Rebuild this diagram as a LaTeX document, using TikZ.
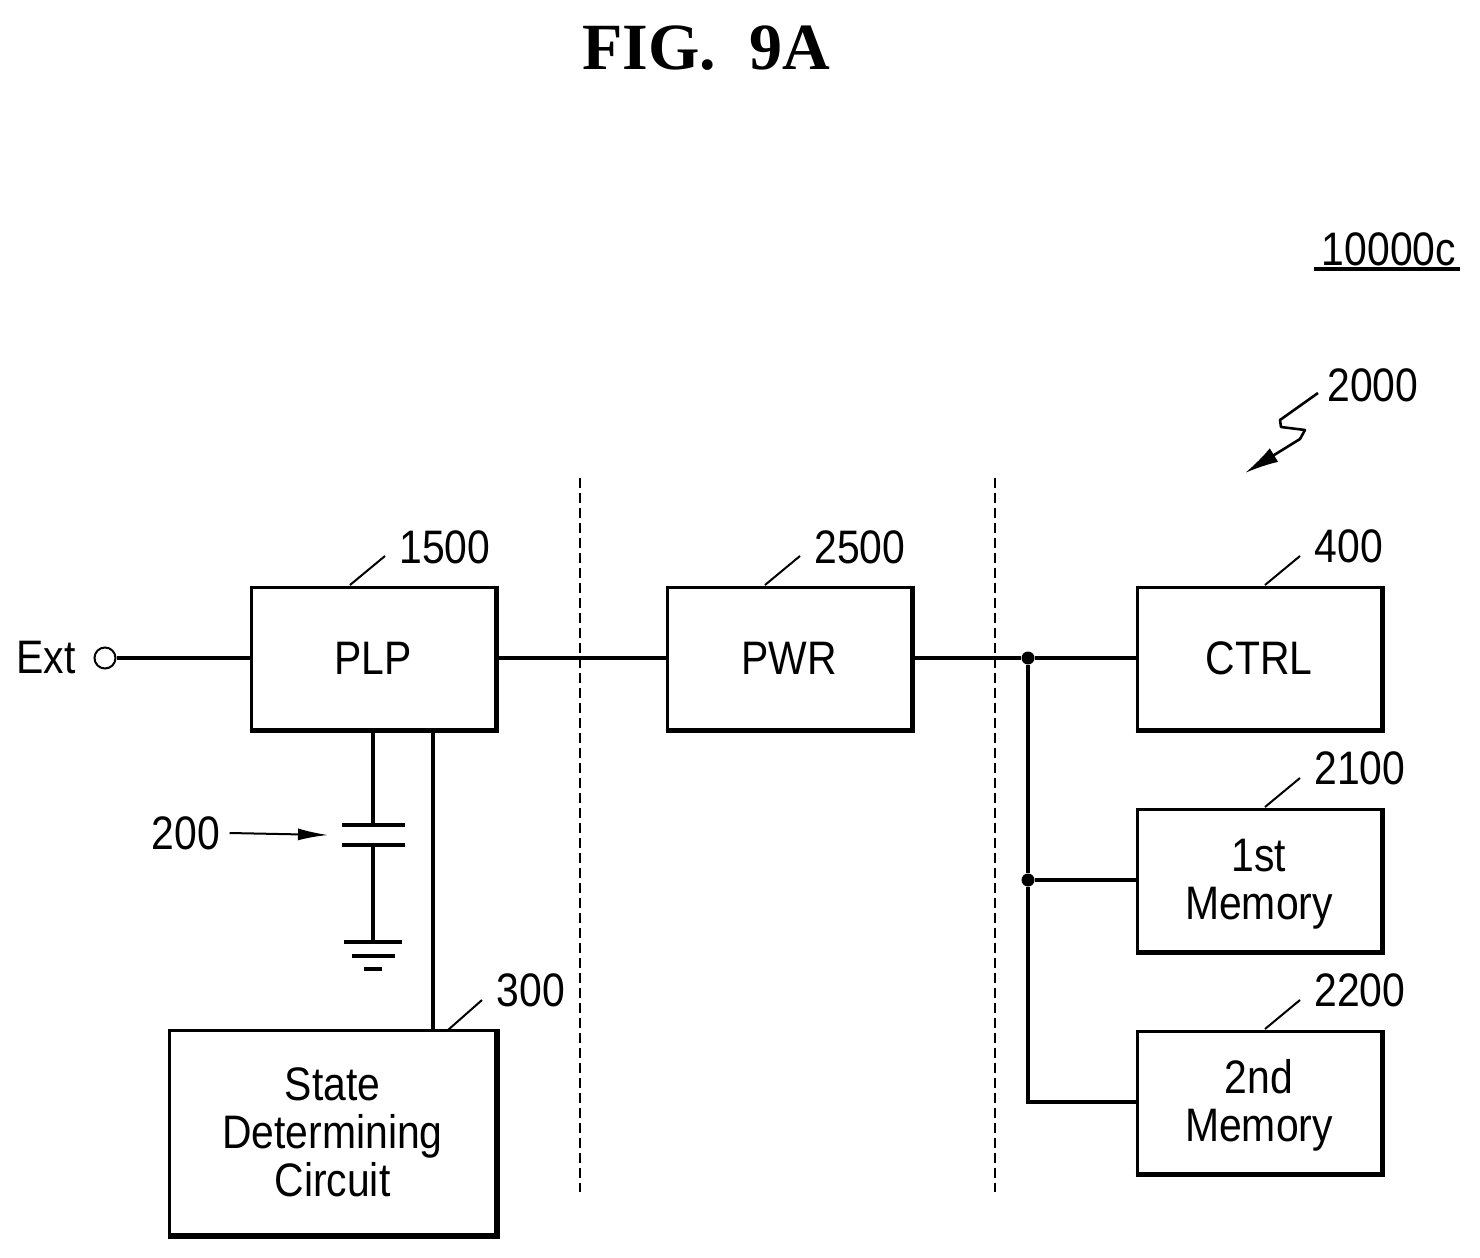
\documentclass[tikz,border=0pt]{standalone}
\usepackage{fontspec}
\setmainfont[FakeStretch=0.87]{Liberation Sans}
\newfontfamily\figfont{Liberation Serif}
\usetikzlibrary{arrows.meta}

\tikzset{
	block/.style={draw,line width=1.5pt,minimum width=122pt,minimum height=71pt,inner sep=0pt,align=center,font=\fontsize{23.5}{24}\selectfont},
	tag/.style={inner sep=0pt,font=\fontsize{23.5}{24}\selectfont},
	wire/.style={line width=1.7pt},
	leader/.style={line width=1pt},
	split/.style={line width=0.8pt,dash pattern=on 5pt off 2.5pt},
	joint/.style={circle,fill,inner sep=0pt,minimum size=6.5pt}
}

\begin{document}
\begin{tikzpicture}[x=0.5pt,y=-0.5pt]

	\useasboundingbox[fill=white] (0,0) rectangle (1480,1258);

	\node[inner sep=0pt,font=\fontsize{33}{33}\bfseries\figfont] (title) at (706,48) {FIG.\hspace{0.5em}9A};
	\node[tag] (system) at (1389,249) {10000c};
	\draw[wire] (1314,269) -- (1460,269);

	% blocks
	\node[block] (plp) at (373,658) {PLP};
	\node[block] (pwr) at (789,658) {PWR};
	\node[block] (ctrl) at (1259,658) {CTRL};
	\node[block] (mem1) at (1259,880) {\rule{0pt}{20pt}1st\\[0pt]Memory};
	\node[block] (mem2) at (1259,1102) {\rule{0pt}{20pt}2nd\\[0pt]Memory};
	\node[block,minimum width=163pt,minimum height=102pt] (state) at (332.5,1132.5) {State\\[0pt]Determining\\[0pt]Circuit};

	\foreach \n in {plp,pwr,ctrl,mem1,mem2,state}
		\draw[line width=2.5pt] (\n.south west) -- (\n.south east) -- (\n.north east);

	% dashed separators
	\coordinate (sepa) at (580,478);
	\coordinate (sepb) at (580,1192);
	\coordinate (sepc) at (995,478);
	\coordinate (sepd) at (995,1192);
	\draw[split] (sepa) -- (sepb);
	\draw[split] (sepc) -- (sepd);

	% input
	\node[tag] (ext) at (46,658) {Ext};
	\node[draw,circle,line width=1pt,minimum size=10.5pt,inner sep=0pt] (port) at (105,658) {};
	\draw[wire] (port) -- (plp);
	\draw[wire] (plp) -- (pwr);

	% supply rail
	\node[joint] (ja) at (1028,658) {};
	\node[joint] (jb) at (1028,880) {};
	\draw[wire] (pwr) -- (ja) -- (ctrl);
	\draw[wire] (ja) -- (jb) -- (mem1);
	\draw[wire] (jb) |- (mem2);

	% capacitor and ground
	\coordinate (capa) at (373,825);
	\coordinate (capb) at (373,845);
	\coordinate (gnda) at (373,942);
	\coordinate (gndb) at (373,956);
	\coordinate (gndc) at (373,969);
	\draw[wire] (capa) -- (plp.south);
	\draw[wire] (capb) -- (gnda);
	\draw[wire] ([xshift=-15.5pt]capa) -- ([xshift=16pt]capa);
	\draw[wire] ([xshift=-15.5pt]capb) -- ([xshift=16pt]capb);
	\draw[wire] ([xshift=-14.5pt]gnda) -- ([xshift=14.5pt]gnda);
	\draw[wire] ([xshift=-10.5pt]gndb) -- ([xshift=11pt]gndb);
	\draw[wire] ([xshift=-4.5pt]gndc) -- ([xshift=4.5pt]gndc);

	% state line
	\coordinate (statein) at (433,1031);
	\coordinate (plpout) at (433,729);
	\draw[wire] (plpout) -- (statein);

	% reference numerals
	\node[tag] (n1500) at (445,547) {1500};
	\node[tag] (n2500) at (860,547) {2500};
	\node[tag] (n400) at (1349,546) {400};
	\node[tag] (n2100) at (1360,768) {2100};
	\node[tag] (n2200) at (1360,990) {2200};
	\node[tag] (n300) at (531,990) {300};
	\node[tag] (n200) at (186,833) {200};
	\node[tag] (n2000) at (1373,385) {2000};

	\coordinate (la) at (350,585);
	\coordinate (lb) at (385,556);
	\coordinate (lc) at (765,585);
	\coordinate (ld) at (800,556);
	\coordinate (le) at (1265,585);
	\coordinate (lf) at (1300,556);
	\coordinate (lg) at (1265,807);
	\coordinate (lh) at (1300,778);
	\coordinate (li) at (1265,1029);
	\coordinate (lj) at (1300,1000);
	\coordinate (lk) at (448,1030);
	\coordinate (ll) at (482,1000);
	\draw[leader] (la) -- (lb);
	\draw[leader] (lc) -- (ld);
	\draw[leader] (le) -- (lf);
	\draw[leader] (lg) -- (lh);
	\draw[leader] (li) -- (lj);
	\draw[leader] (lk) -- (ll);

	\coordinate (capend) at (328,835);
	\draw[leader,-{Latex[length=15pt,width=6pt]}] (n200.east) ++(9,0) -- (capend);

	% lightning
	\coordinate (za) at (1318,393);
	\coordinate (zb) at (1280,420);
	\coordinate (zc) at (1281,427);
	\coordinate (zd) at (1305,430);
	\coordinate (ze) at (1300,439);
	\coordinate (zf) at (1245,473);
	\draw[line width=1.3pt,line join=round,-{Latex[length=17pt,width=8pt]}] (za) -- (zb) -- (zc) -- (zd) -- (ze) -- (zf);

\end{tikzpicture}
\end{document}
